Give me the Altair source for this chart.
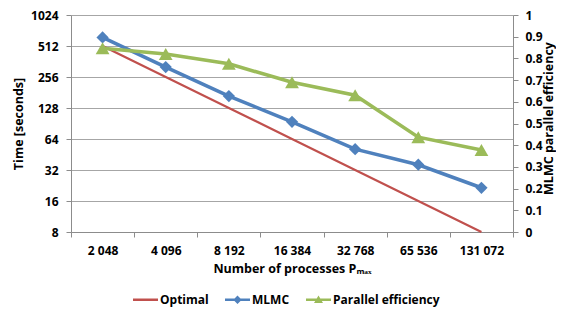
import altair as alt
import pandas as pd

procs = ["2 048", "4 096", "8 192", "16 384", "32 768", "65 536", "131 072"]
optimal = [512, 256, 128, 64, 32, 16, 8]
mlmc = [620, 320, 167, 94, 51, 36, 21.5]
efficiency = [0.847, 0.82, 0.775, 0.69, 0.63, 0.437, 0.378]
series = ["Optimal", "MLMC", "Parallel efficiency"]
colors = ["#C0504D", "#4F81BD", "#9BBB59"]
left_ticks = [8, 16, 32, 64, 128, 256, 512, 1024]
right_ticks = [0, 0.1, 0.2, 0.3, 0.4, 0.5, 0.6, 0.7, 0.8, 0.9, 1]

FONT = "Open Sans"
AXIS_GRAY = "#8c8c8c"

df = pd.DataFrame({"p": procs, "optimal": optimal, "mlmc": mlmc, "eff": efficiency})
legend_df = pd.DataFrame({"p": [procs[0]] * 3, "series": series, "v": [1, 1, 1]})

x_enc = alt.X(
    "p:N",
    sort=procs,
    scale=alt.Scale(type="band", domain=procs, paddingInner=0, paddingOuter=0),
    axis=alt.Axis(
        title="Number of processes Pₘₐₓ",
        labelAngle=0,
        tickBand="extent",
        grid=False,
        domainColor=AXIS_GRAY,
        tickColor=AXIS_GRAY,
        tickSize=5,
        labelPadding=8,
        titlePadding=6,
    ),
)

y_left_scale = alt.Scale(type="log", base=2, domain=[8, 1024])
y_left_axis = alt.Axis(
    values=left_ticks,
    format="d",
    title="Time [seconds]",
    grid=True,
    gridColor="#a6a6a6",
    domainColor=AXIS_GRAY,
    tickColor=AXIS_GRAY,
    tickSize=5,
    labelPadding=8,
    titlePadding=5,
)

base = alt.Chart(df)

opt_line = base.mark_line(color=colors[0], strokeWidth=2.2).encode(
    x=x_enc, y=alt.Y("optimal:Q", scale=y_left_scale, axis=y_left_axis)
)
mlmc_line = base.mark_line(color=colors[1], strokeWidth=3.6).encode(
    x=x_enc, y=alt.Y("mlmc:Q", scale=y_left_scale, axis=y_left_axis)
)
mlmc_pts = base.mark_point(shape="diamond", filled=True, opacity=1, size=150, color=colors[1]).encode(
    x=x_enc, y=alt.Y("mlmc:Q", scale=y_left_scale, axis=y_left_axis)
)

leg_paths = [
    "M-1,-0.1L1,-0.1L1,0.1L-1,0.1Z",
    "M-1,-0.1L1,-0.1L1,0.1L-1,0.1ZM0,-0.34L0.34,0L0,0.34L-0.34,0Z",
    "M-1,-0.1L1,-0.1L1,0.1L-1,0.1ZM0,-0.34L0.36,0.26L-0.36,0.26Z",
]
leg = alt.Legend(
    title=None, orient="none", legendX=62, legendY=272, direction="horizontal",
    columnPadding=16, labelFontSize=12, labelFont=FONT,
    labelFontWeight="bold", labelColor="#000",
    symbolStrokeWidth=0, symbolSize=625, labelOffset=2, symbolOpacity=1,
)
legend_layer = alt.Chart(legend_df).mark_point(filled=True, opacity=1, size=625, clip=True).encode(
    x=x_enc,
    y=alt.Y("v:Q", scale=y_left_scale, axis=y_left_axis),
    color=alt.Color("series:N", scale=alt.Scale(domain=series, range=colors), sort=series, legend=leg),
    shape=alt.Shape("series:N", scale=alt.Scale(domain=series, range=leg_paths), sort=series, legend=leg),
)

left = alt.layer(opt_line, mlmc_line, mlmc_pts, legend_layer)

y_right = alt.Y(
    "eff:Q",
    scale=alt.Scale(domain=[0, 1]),
    axis=alt.Axis(
        orient="right",
        values=right_ticks,
        format=".1~f",
        title="MLMC parallel efficiency",
        titleAngle=270,
        titleBaseline="middle",
        titleAlign="center",
        titleX=35,
        titleY=103,
        grid=False,
        domainColor=AXIS_GRAY,
        tickColor=AXIS_GRAY,
        tickSize=5,
        labelPadding=7,
    ),
)
eff_line = base.mark_line(color=colors[2], strokeWidth=3.6).encode(x=x_enc, y=y_right)
eff_pts = base.mark_point(shape="triangle-up", filled=True, opacity=1, size=190, color=colors[2]).encode(
    x=x_enc, y=y_right
)
right = alt.layer(eff_line, eff_pts)

chart = (
    alt.layer(left, right)
    .resolve_scale(y="independent")
    .properties(
        width=442,
        height=217,
        autosize=alt.AutoSizeParams(type="none"),
        padding={"left": 63, "top": 7, "right": 43, "bottom": 78},
        background="white",
    )
    .configure_view(stroke=None)
    .configure_axis(
        labelFont=FONT,
        labelFontSize=12,
        labelFontWeight="bold",
        labelColor="#000",
        titleFont=FONT,
        titleFontSize=12.5,
        titleFontWeight="bold",
        titleColor="#000",
    )
)

chart.save("out.html", embed_options={"renderer": "svg", "actions": False})
